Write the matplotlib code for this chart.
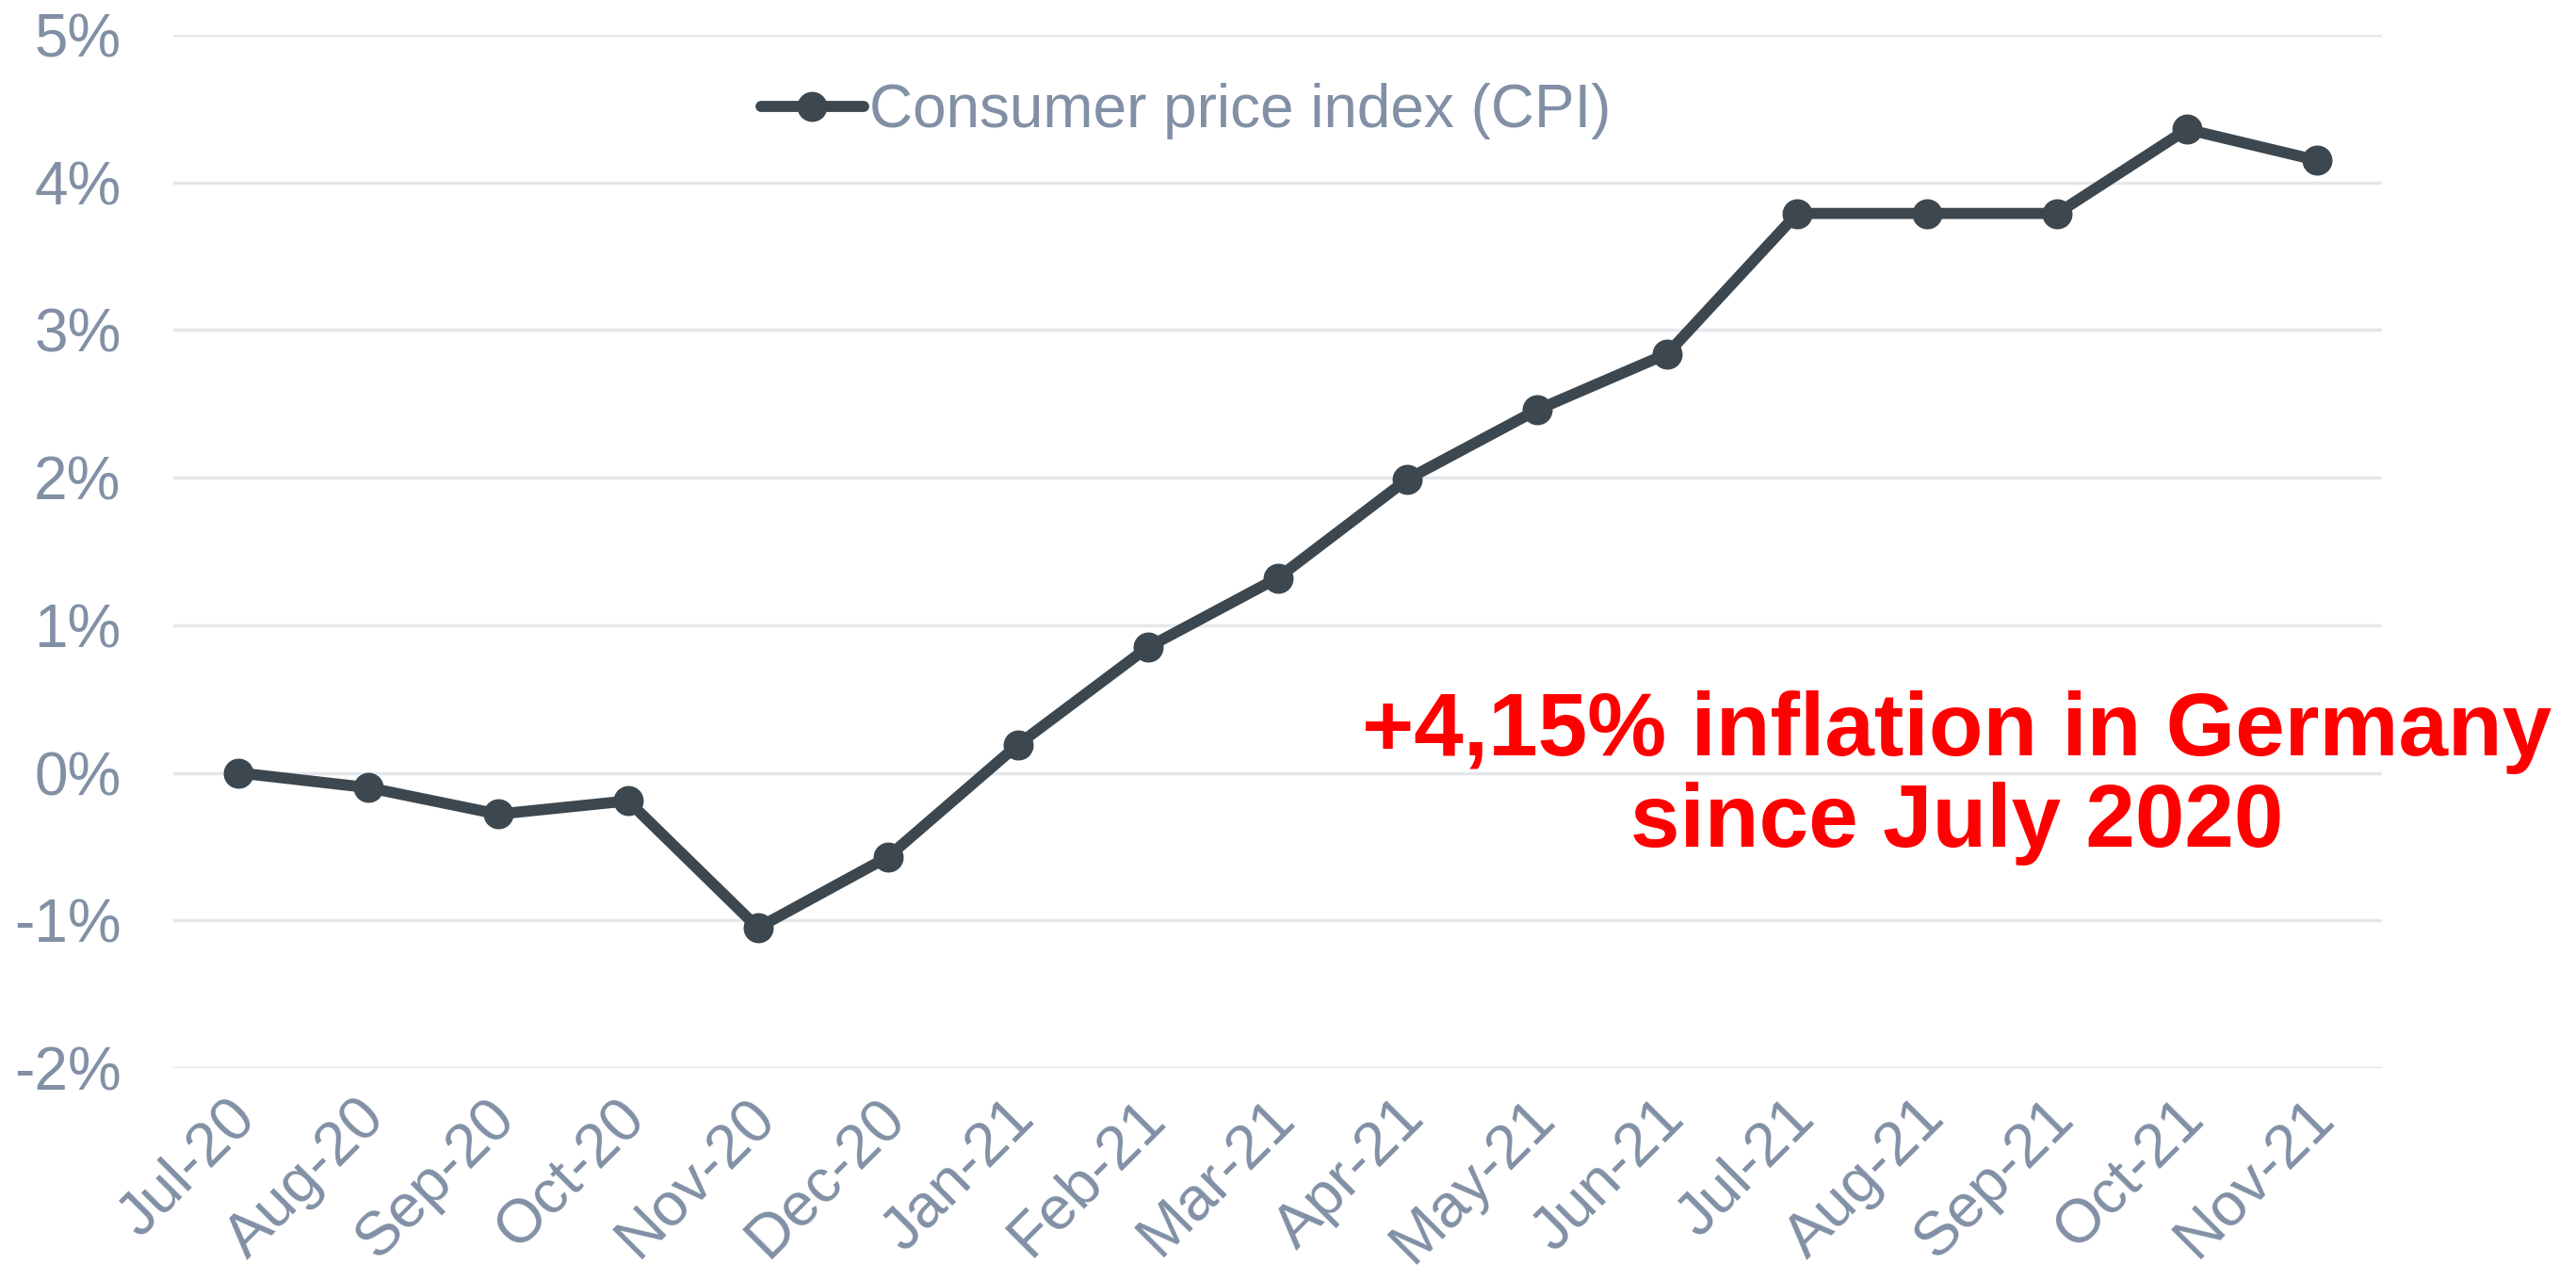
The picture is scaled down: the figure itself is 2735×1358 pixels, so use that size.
import matplotlib
matplotlib.use("Agg")
import matplotlib.pyplot as plt
import matplotlib.transforms as mtransforms
from matplotlib.ticker import FuncFormatter, MultipleLocator

months = ["Jul-20", "Aug-20", "Sep-20", "Oct-20", "Nov-20", "Dec-20", "Jan-21",
          "Feb-21", "Mar-21", "Apr-21", "May-21", "Jun-21", "Jul-21", "Aug-21",
          "Sep-21", "Oct-21", "Nov-21"]
cpi = [0.0, -0.10, -0.28, -0.19, -1.05, -0.57, 0.19, 0.85, 1.32, 1.99, 2.46,
       2.84, 3.79, 3.79, 3.79, 4.36, 4.15]
series_label = "Consumer price index (CPI)"
note = "+4,15% inflation in Germany\nsince July 2020"

plt.rcParams['font.family'] = ['Liberation Sans', 'DejaVu Sans']
text_col = "#8190a5"
line_col = "#3c474f"
grid_col = "#e4e7eb"

fig = plt.figure(figsize=(27.35, 13.58), dpi=100)
ax = fig.add_axes([184/2735, 1 - 1134/1358, (2529-184)/2735, (1134-37)/1358])

x = list(range(len(months)))
ax.plot(x, cpi, color=line_col, lw=8.5, marker='o', markersize=22,
        solid_capstyle='round', solid_joinstyle='round', label=series_label, zorder=3)

ax.set_xlim(-0.5, len(months) - 0.5)
ax.set_ylim(-2, 5)
ax.yaxis.set_major_locator(MultipleLocator(1))
ax.yaxis.set_major_formatter(FuncFormatter(lambda v, p: f"{v:.0f}%"))
ax.grid(axis='y', color=grid_col, lw=2.5, zorder=0)
ax.set_xticks(x)
ax.set_xticklabels(months, rotation=45, ha='right', rotation_mode='default')
for s in ax.spines.values():
    s.set_visible(False)
ax.tick_params(axis='both', length=0, colors=text_col)
ax.tick_params(axis='y', pad=40, labelsize=46)
ax.tick_params(axis='x', pad=16, labelsize=47)
offset = mtransforms.ScaledTranslation(0.30, 0, fig.dpi_scale_trans)
for lab in ax.get_xticklabels():
    lab.set_transform(lab.get_transform() + offset)

leg = ax.legend(loc='center left', bbox_to_anchor=(808/2735, 1 - 118/1358),
                bbox_transform=fig.transFigure, frameon=False, fontsize=46,
                handlelength=1.7, handletextpad=0.1, borderpad=0, borderaxespad=0,
                numpoints=1)
for t in leg.get_texts():
    t.set_color(text_col)

fig.text(2078/2735, 1 - 826/1358, note, color='#ff0000', fontsize=68, fontweight='bold',
         ha='center', va='center', linespacing=1.12)

fig.savefig("out.png", dpi=100, facecolor='white')
